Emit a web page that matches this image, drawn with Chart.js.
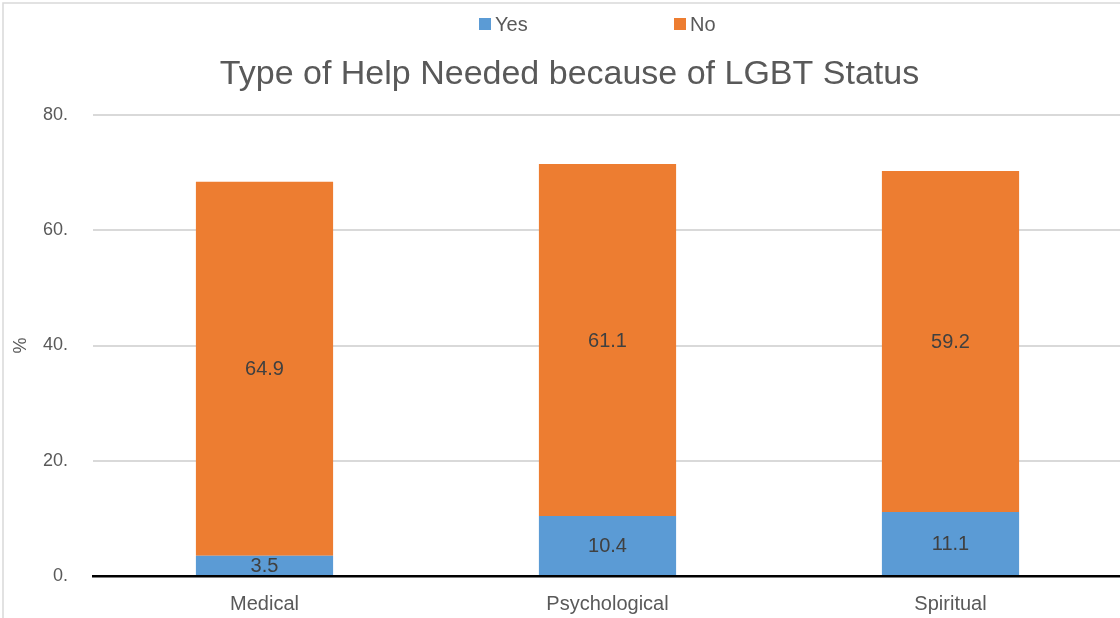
<!DOCTYPE html>
<html>
<head>
<meta charset="utf-8">
<script src="https://cdn.jsdelivr.net/npm/chart.js@4/dist/chart.umd.min.js"></script>
<style>
  html, body { margin: 0; padding: 0; background: #fff; overflow: hidden; }
  #wrap { position: relative; width: 1120px; height: 618px; overflow: hidden; }
  #box { position: absolute; left: 0; top: 0; width: 1126px; height: 618px; }
</style>
</head>
<body>
<div id="wrap"><div id="box"><canvas id="chart" width="1126" height="618"></canvas></div></div>
<script>
// Survey results: share of respondents needing each type of help (%)
const categories = ['Medical', 'Psychological', 'Spiritual'];
const yesValues = [3.5, 10.4, 11.1];
const noValues = [64.9, 61.1, 59.2];
const seriesNames = ['Yes', 'No'];
const seriesColors = ['#5b9bd5', '#ed7d31'];
const chartTitle = 'Type of Help Needed because of LGBT Status';
const axisTitle = '%';

const FONT = '"Liberation Sans", Arial, Helvetica, sans-serif';
const TEXT = '#595959';

// Frame, title and legend painted around the plot
const framePlugin = {
  id: 'frame',
  beforeDraw(chart) {
    const ctx = chart.ctx;
    ctx.save();
    ctx.fillStyle = '#ffffff';
    ctx.fillRect(0, 0, chart.width, chart.height);
    ctx.strokeStyle = '#d9d9d9';
    ctx.lineWidth = 1.5;
    ctx.strokeRect(3, 3, chart.width + 20, chart.height + 20);
    ctx.restore();
  },
  afterDraw(chart) {
    const ctx = chart.ctx;
    ctx.save();
    // title
    ctx.fillStyle = TEXT;
    ctx.font = '34px ' + FONT;
    ctx.textAlign = 'center';
    ctx.textBaseline = 'alphabetic';
    ctx.fillText(chartTitle, 569.5, 84);
    // legend
    ctx.font = '20px ' + FONT;
    ctx.textAlign = 'left';
    ctx.textBaseline = 'middle';
    const items = [{ x: 479 }, { x: 674 }];
    items.forEach((it, i) => {
      ctx.fillStyle = seriesColors[i];
      ctx.fillRect(it.x, 18, 12, 12);
      ctx.fillStyle = TEXT;
      ctx.fillText(seriesNames[i], it.x + 16, 25);
    });
    ctx.restore();
  }
};

// Value labels centred in every bar segment
const valueLabels = {
  id: 'valueLabels',
  afterDatasetsDraw(chart) {
    const ctx = chart.ctx;
    ctx.save();
    ctx.font = '20px ' + FONT;
    ctx.fillStyle = '#404040';
    ctx.textAlign = 'center';
    ctx.textBaseline = 'middle';
    chart.data.datasets.forEach((ds, di) => {
      const meta = chart.getDatasetMeta(di);
      meta.data.forEach((bar, i) => {
        const mid = (bar.y + bar.base) / 2;
        ctx.fillText(ds.data[i].toFixed(1), bar.x, mid + 1);
      });
    });
    ctx.restore();
  }
};

new Chart(document.getElementById('chart'), {
  type: 'bar',
  data: {
    labels: categories,
    datasets: [
      { label: seriesNames[0], data: yesValues, backgroundColor: seriesColors[0], borderWidth: 0 },
      { label: seriesNames[1], data: noValues, backgroundColor: seriesColors[1], borderWidth: 0 }
    ]
  },
  options: {
    responsive: false,
    animation: false,
    devicePixelRatio: 1,
    layout: { padding: { top: 115, left: 0, right: 4, bottom: 0 } },
    datasets: { bar: { barPercentage: 0.4, categoryPercentage: 1 } },
    plugins: {
      legend: { display: false },
      title: { display: false },
      tooltip: { enabled: false }
    },
    scales: {
      x: {
        stacked: true,
        grid: { display: false, drawTicks: false },
        border: { display: true, color: '#000000', width: 2.5, z: 1 },
        ticks: { color: TEXT, font: { family: FONT, size: 20 }, padding: 16 },
        afterFit(scale) { scale.height = 42; }
      },
      y: {
        stacked: true,
        min: 0,
        max: 80,
        grid: { color: '#d9d9d9', lineWidth: 2, drawTicks: false },
        border: { display: false },
        ticks: {
          stepSize: 20,
          color: TEXT,
          font: { family: FONT, size: 18 },
          padding: 25,
          callback: (v) => v + '.'
        },
        title: {
          display: true,
          text: axisTitle,
          color: TEXT,
          font: { family: FONT, size: 18 },
          padding: { top: 10, bottom: 0 }
        },
        afterFit(scale) { scale.width = 93; }
      }
    }
  },
  plugins: [framePlugin, valueLabels]
});
</script>
</body>
</html>
